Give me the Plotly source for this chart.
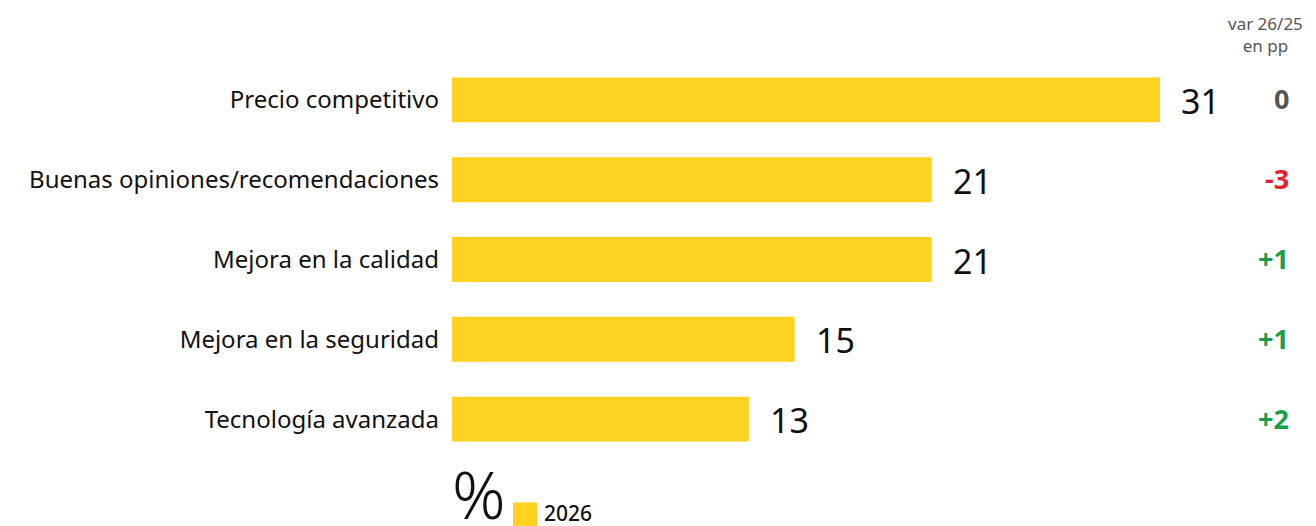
import plotly.graph_objects as go

categories = ["Precio competitivo", "Buenas opiniones/recomendaciones", "Mejora en la calidad",
              "Mejora en la seguridad", "Tecnología avanzada"]
values_2026 = [31, 21, 21, 15, 13]
variation = [0, -3, 1, 1, 2]
series_name = "2026"
var_title = "var 26/25<br>en pp"
unit_label = "%"

# page body has an 8px margin: figure occupies screen (8..1316, 8..526)
OFF = 8
W, H = 1316 - OFF, 526 - OFF
PLOT_L, PLOT_T, PLOT_B = 452, 59.5, 459.5   # screen pixels
ML = PLOT_L - OFF
MT = PLOT_T - OFF
MB = 526 - PLOT_B
MR = 8
plot_w = W - ML - MR
plot_h = H - MT - MB
px_per_unit = 708 / 31
xmax = plot_w / px_per_unit

YELLOW = "#fdd221"
FONT = "Noto Sans"

def px(sx):
    return (sx - PLOT_L) / plot_w

def py(sy):
    return (PLOT_B - sy) / plot_h

def var_text(v):
    return "0" if v == 0 else (f"+{v}" if v > 0 else f"{v}")

def var_color(v):
    return "#555555" if v == 0 else ("#1a9e4a" if v > 0 else "#e4202a")

fig = go.Figure()
fig.add_trace(go.Bar(
    x=values_2026, y=categories, orientation="h", name=series_name,
    marker=dict(color=YELLOW, line=dict(width=0)), hoverinfo="x+y",
))

annotations = []
for c, v, d in zip(categories, values_2026, variation):
    annotations.append(dict(x=v, y=c, xref="x", yref="y", text=str(v), showarrow=False,
                            xanchor="left", xshift=19, yshift=-1,
                            font=dict(family=FONT, size=34, color="#111111")))
    annotations.append(dict(x=px(1291), y=c, xref="paper", yref="y", text=var_text(d),
                            showarrow=False, xanchor="right", yshift=1,
                            font=dict(family=FONT, size=27, color=var_color(d), weight="bold")))
annotations.append(dict(x=px(1305), y=py(58), xref="paper", yref="paper",
                        text=var_title, showarrow=False, xanchor="right", yanchor="bottom",
                        align="center", font=dict(family=FONT, size=17, color="#555555")))
annotations.append(dict(x=px(450), y=py(494), xref="paper", yref="paper", text=unit_label,
                        showarrow=False, xanchor="left", yanchor="middle",
                        font=dict(family=FONT, size=66, color="#111111", weight=300)))
annotations.append(dict(x=px(542), y=py(514), xref="paper", yref="paper", text=series_name,
                        showarrow=False, xanchor="left", yanchor="middle",
                        font=dict(family=FONT, size=21, color="#111111", weight=500)))

shapes = [dict(type="rect", xref="paper", yref="paper",
               x0=px(513), x1=px(537), y0=py(503), y1=py(528),
               fillcolor=YELLOW, line=dict(width=0))]

fig.update_layout(
    width=W, height=H, margin=dict(l=ML, r=MR, t=MT, b=MB, pad=0),
    paper_bgcolor="white", plot_bgcolor="white", showlegend=False,
    bargap=0.4375,
    xaxis=dict(range=[0, xmax], visible=False, fixedrange=True),
    yaxis=dict(autorange="reversed", showgrid=False, zeroline=False, showline=False,
               ticks="", ticklabelstandoff=12, fixedrange=True,
               tickfont=dict(family=FONT, size=24, color="#111111")),
    annotations=annotations, shapes=shapes,
)
fig.write_html("out.html")
